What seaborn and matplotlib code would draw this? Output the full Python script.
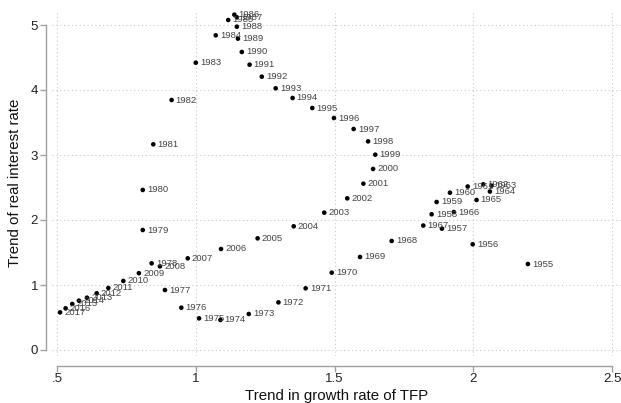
import matplotlib
matplotlib.use("Agg")
import matplotlib.pyplot as plt
import seaborn as sns
import pandas as pd

years = list(range(1955, 2018))

tfp_trend = [
    2.197, 1.998, 1.887, 1.850, 1.868, 1.916, 1.980, 2.036, 2.066, 2.060,
    2.012, 1.930, 1.820, 1.706, 1.592, 1.490, 1.396, 1.298, 1.191, 1.089,
    1.012, 0.948, 0.889, 0.841, 0.809, 0.809, 0.847, 0.913, 1.000, 1.072,
    1.117, 1.139, 1.148, 1.148, 1.152, 1.166, 1.194, 1.238, 1.288, 1.349,
    1.420, 1.498, 1.569, 1.621, 1.647, 1.639, 1.604, 1.546, 1.463, 1.353,
    1.223, 1.091, 0.971, 0.871, 0.795, 0.739, 0.685, 0.643, 0.608, 0.579,
    0.555, 0.531, 0.511,
]

rate_trend = [
    1.323, 1.626, 1.867, 2.088, 2.277, 2.420, 2.515, 2.549, 2.528, 2.438,
    2.308, 2.123, 1.915, 1.677, 1.431, 1.190, 0.949, 0.733, 0.554, 0.462,
    0.487, 0.651, 0.923, 1.333, 1.846, 2.462, 3.164, 3.846, 4.420, 4.841,
    5.077, 5.159, 5.118, 4.974, 4.790, 4.585, 4.390, 4.205, 4.026, 3.877,
    3.723, 3.569, 3.400, 3.210, 3.005, 2.785, 2.559, 2.333, 2.113, 1.903,
    1.718, 1.554, 1.410, 1.287, 1.182, 1.062, 0.954, 0.872, 0.805, 0.759,
    0.708, 0.641, 0.579,
]

x_ticks = [0.5, 1.0, 1.5, 2.0, 2.5]
x_tick_labels = [".5", "1", "1.5", "2", "2.5"]
y_ticks = [0, 1, 2, 3, 4, 5]
y_tick_labels = ["0", "1", "2", "3", "4", "5"]

df = pd.DataFrame({"year": years, "tfp": tfp_trend, "rate": rate_trend})

sns.set_style("white")
plt.rcParams["font.family"] = ["Liberation Sans", "DejaVu Sans"]

fig = plt.figure(figsize=(6.21, 4.03), dpi=100)
ax = fig.add_axes([52 / 621, 1 - 356 / 403, 569 / 621, 346 / 403])

sns.scatterplot(data=df, x="tfp", y="rate", ax=ax, color="black",
                s=11, edgecolor="none", linewidth=0, zorder=3)

# year labels to the right of each point
for yr, xv, yv in zip(df["year"], df["tfp"], df["rate"]):
    ax.annotate(str(yr), (xv, yv), xytext=(3, 0), textcoords="offset points",
                ha="left", va="center", fontsize=6.8, color="#444444", zorder=4)

ax.set_xlim(0.5 - 5 / 277.5, 0.5 + 564 / 277.5)
ax.set_ylim(-6 / 65, 340 / 65)

ax.set_xticks(x_ticks)
ax.set_xticklabels(x_tick_labels)
ax.set_yticks(y_ticks)
ax.set_yticklabels(y_tick_labels)

ax.grid(True, which="major", linestyle=(0, (1, 2.5)), color="#c8c8c8", linewidth=0.8)
ax.set_axisbelow(True)

for side in ["top", "right"]:
    ax.spines[side].set_visible(False)
ax.spines["left"].set_position(("outward", 4))
ax.spines["bottom"].set_position(("outward", 7))
ax.spines["left"].set_bounds(0, 5)
ax.spines["bottom"].set_bounds(0.5, 2.5)
for side in ["left", "bottom"]:
    ax.spines[side].set_color("#a0a0a0")
    ax.spines[side].set_linewidth(1.0)

ax.tick_params(axis="both", which="major", length=4, width=1.0, color="#a0a0a0",
               labelsize=9.5, labelcolor="#222222", left=True, bottom=True, pad=2)
ax.tick_params(axis="x", pad=1)

ax.set_xlabel("Trend in growth rate of TFP", fontsize=10.8, color="#111111", labelpad=3)
ax.set_ylabel("Trend of real interest rate", fontsize=10.8, color="#111111", labelpad=6)

fig.savefig("out.png", dpi=100, facecolor="white")
